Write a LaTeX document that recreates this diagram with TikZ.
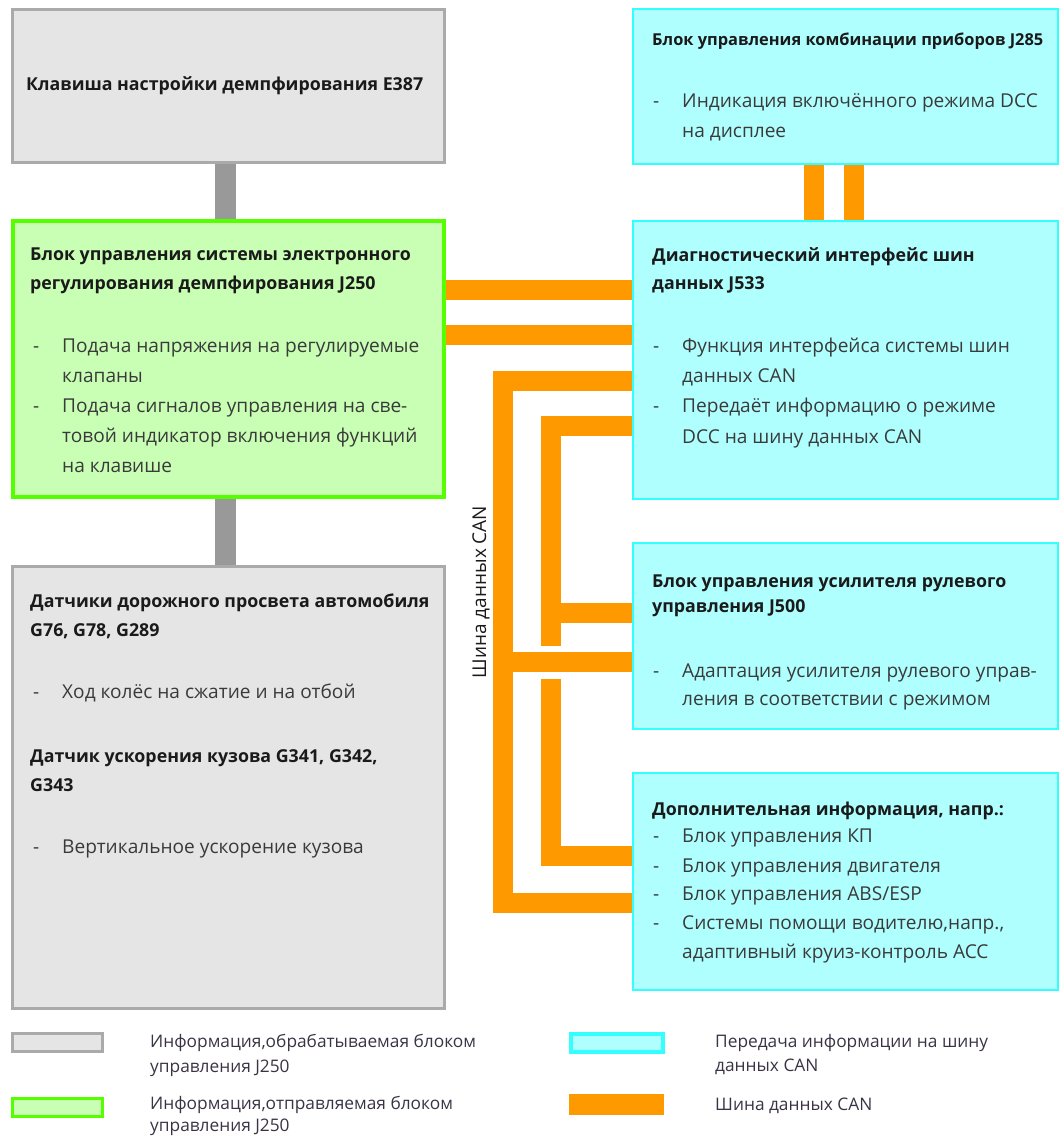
\documentclass[tikz,border=0pt]{standalone}
\usepackage{fontspec}
\setmainfont{Open Sans}
\usetikzlibrary{calc}
\definecolor{gfill}{HTML}{E5E5E5}
\definecolor{gline}{HTML}{AAAAAA}
\definecolor{lgfill}{HTML}{C8FFB4}
\definecolor{lgline}{HTML}{55FF00}
\definecolor{cfill}{HTML}{B0FFFF}
\definecolor{cline}{HTML}{33FFFF}
\definecolor{orng}{HTML}{FF9900}
\definecolor{conn}{HTML}{999999}
\definecolor{ttlc}{HTML}{1A1A1A}
\definecolor{bodyc}{HTML}{3A3A3A}
\definecolor{legc}{HTML}{3A3344}
\pgfdeclarelayer{bg}
\pgfsetlayers{bg,main}
\begin{document}
\begin{tikzpicture}[x=1pt,y=-1pt,
 box/.style={rectangle, inner sep=0pt, outer sep=0pt},
 graybox/.style={box, fill=gfill, draw=gline, line width=3pt},
 greenbox/.style={box, fill=lgfill, draw=lgline, line width=4pt},
 cyanbox/.style={box, fill=cfill, draw=cline, line width=2pt},
 ttl/.style={anchor=base west, inner sep=0pt, font=\fontsize{17.8}{22}\selectfont\bfseries, text=ttlc},
 body/.style={anchor=base west, inner sep=0pt, font=\fontsize{19.1}{23}\selectfont, text=bodyc},
 leg/.style={anchor=base west, inner sep=0pt, font=\fontsize{17.3}{21}\selectfont, text=legc},
 can/.style={draw=orng, line width=20pt},
 gconn/.style={draw=conn, line width=21pt},
]
\useasboundingbox (0,0) rectangle (1059,1137);

% boxes
\node[graybox, minimum width=432pt, minimum height=153pt] (e387) at (228.5,86) {};
\node[greenbox, minimum width=431pt, minimum height=276pt] (j250) at (228.5,359) {};
\node[graybox, minimum width=432pt, minimum height=442pt] (sens) at (228.5,787.5) {};
\node[cyanbox, minimum width=425pt, minimum height=154pt] (j285) at (845,86.5) {};
\node[cyanbox, minimum width=425pt, minimum height=278pt] (j533) at (845,359.5) {};
\node[cyanbox, minimum width=425pt, minimum height=186pt] (j500) at (845,635.5) {};
\node[cyanbox, minimum width=425pt, minimum height=217pt] (add) at (845,881) {};

% connectors
\coordinate (gx) at (225.5,0);
\coordinate (h1) at (0,290);
\coordinate (h2) at (0,335);
\coordinate (ox) at (502.5,380.5);
\coordinate (ob) at (502.5,903);
\coordinate (o2) at (502.5,662);
\coordinate (ix) at (550.5,426);
\coordinate (ie) at (550.5,646);
\coordinate (i2) at (550.5,612.5);
\coordinate (is) at (550.5,679);
\coordinate (ib) at (550.5,856);
\coordinate (v1) at (813.5,0);
\coordinate (v2) at (853.5,0);
\begin{pgfonlayer}{bg}
\draw[gconn] (e387.south -| gx) -- (j250.north -| gx);
\draw[gconn] (j250.south -| gx) -- (sens.north -| gx);
\draw[can] (j250.east |- h1) -- (j533.west |- h1);
\draw[can] (j250.east |- h2) -- (j533.west |- h2);
\draw[can] (j533.west |- ox) -- (ox) -- (ob) -- (add.west |- ob);
\draw[can] (o2) -- (j500.west |- o2);
\draw[can] (j533.west |- ix) -- (ix) -- (ie);
\draw[can] (i2) -- (j500.west |- i2);
\draw[can] (is) -- (ib) -- (add.west |- ib);
\draw[can] (j285.south -| v1) -- (j533.north -| v1);
\draw[can] (j285.south -| v2) -- (j533.north -| v2);
\end{pgfonlayer}

\node[font=\fontsize{19}{22}\selectfont, text=ttlc, rotate=90, inner sep=0pt] (canlbl) at (481,592) {Шина данных CAN};

% E387
\node[ttl] (t1) at (26,91) {Клавиша настройки демпфирования E387};
% J250
\node[ttl] (t2) at (30,260) {Блок управления системы электронного};
\node[ttl] (t3) at (30,289) {регулирования демпфирования J250};
\node[body] (d1) at (33,352) {-};
\node[body] (t4) at (62,352) {Подача напряжения на регулируемые};
\node[body] (t5) at (62,382) {клапаны};
\node[body] (d2) at (33,412) {-};
\node[body] (t6) at (62,412) {Подача сигналов управления на све-};
\node[body] (t7) at (62,442) {товой индикатор включения функций};
\node[body] (t8) at (62,472) {на клавише};
% sensors
\node[ttl] (t9) at (30,607) {Датчики дорожного просвета автомобиля};
\node[ttl] (t10) at (30,636) {G76, G78, G289};
\node[body] (d3) at (33,698) {-};
\node[body] (t11) at (62,698) {Ход колёс на сжатие и на отбой};
\node[ttl] (t12) at (30,762) {Датчик ускорения кузова G341, G342,};
\node[ttl] (t13) at (30,791) {G343};
\node[body] (d4) at (33,853) {-};
\node[body] (t14) at (62,853) {Вертикальное ускорение кузова};
% J285
\node[ttl, font=\fontsize{16.4}{20}\selectfont\bfseries] (t15) at (652,46) {Блок управления комбинации приборов J285};
\node[body] (d5) at (653,108) {-};
\node[body] (t16) at (682,108) {Индикация включённого режима DCC};
\node[body] (t17) at (682,137) {на дисплее};
% J533
\node[ttl] (t18) at (652,261) {Диагностический интерфейс шин};
\node[ttl] (t19) at (652,289) {данных J533};
\node[body] (d6) at (653,352) {-};
\node[body] (t20) at (682,352) {Функция интерфейса системы шин};
\node[body] (t21) at (682,382) {данных CAN};
\node[body] (d7) at (653,412) {-};
\node[body] (t22) at (682,412) {Передаёт информацию о режиме};
\node[body] (t23) at (682,443) {DCC на шину данных CAN};
% J500
\node[ttl] (t24) at (652,587) {Блок управления усилителя рулевого};
\node[ttl] (t25) at (652,612) {управления J500};
\node[body] (d8) at (653,677) {-};
\node[body] (t26) at (682,677) {Адаптация усилителя рулевого управ-};
\node[body] (t27) at (682,705) {ления в соответствии с режимом};
% additional
\node[ttl] (t28) at (652,815) {Дополнительная информация, напр.:};
\node[body] (d9) at (653,842) {-};
\node[body] (t29) at (682,842) {Блок управления КП};
\node[body] (d10) at (653,872) {-};
\node[body] (t30) at (682,872) {Блок управления двигателя};
\node[body] (d11) at (653,900) {-};
\node[body] (t31) at (682,900) {Блок управления ABS/ESP};
\node[body] (d12) at (653,929) {-};
\node[body] (t32) at (682,929) {Системы помощи водителю,напр.,};
\node[body] (t33) at (682,958) {адаптивный круиз-контроль ACC};

% legend
\node[graybox, minimum width=90pt, minimum height=18pt] (lg1) at (57.5,1042.5) {};
\node[greenbox, line width=3pt, minimum width=90pt, minimum height=18pt] (lg2) at (57.5,1107.5) {};
\node[cyanbox, line width=4pt, minimum width=92pt, minimum height=18pt] (lg3) at (617,1042.5) {};
\node[box, fill=orng, minimum width=95pt, minimum height=21pt] (lg4) at (616.5,1104.5) {};
\node[leg] (l1) at (150,1047) {Информация,обрабатываемая блоком};
\node[leg] (l2) at (150,1072) {управления J250};
\node[leg] (l3) at (150,1109) {Информация,отправляемая блоком};
\node[leg] (l4) at (150,1131) {управления J250};
\node[leg] (l5) at (715,1047) {Передача информации на шину};
\node[leg] (l6) at (715,1071) {данных CAN};
\node[leg] (l7) at (715,1110) {Шина данных CAN};
\end{tikzpicture}
\end{document}
